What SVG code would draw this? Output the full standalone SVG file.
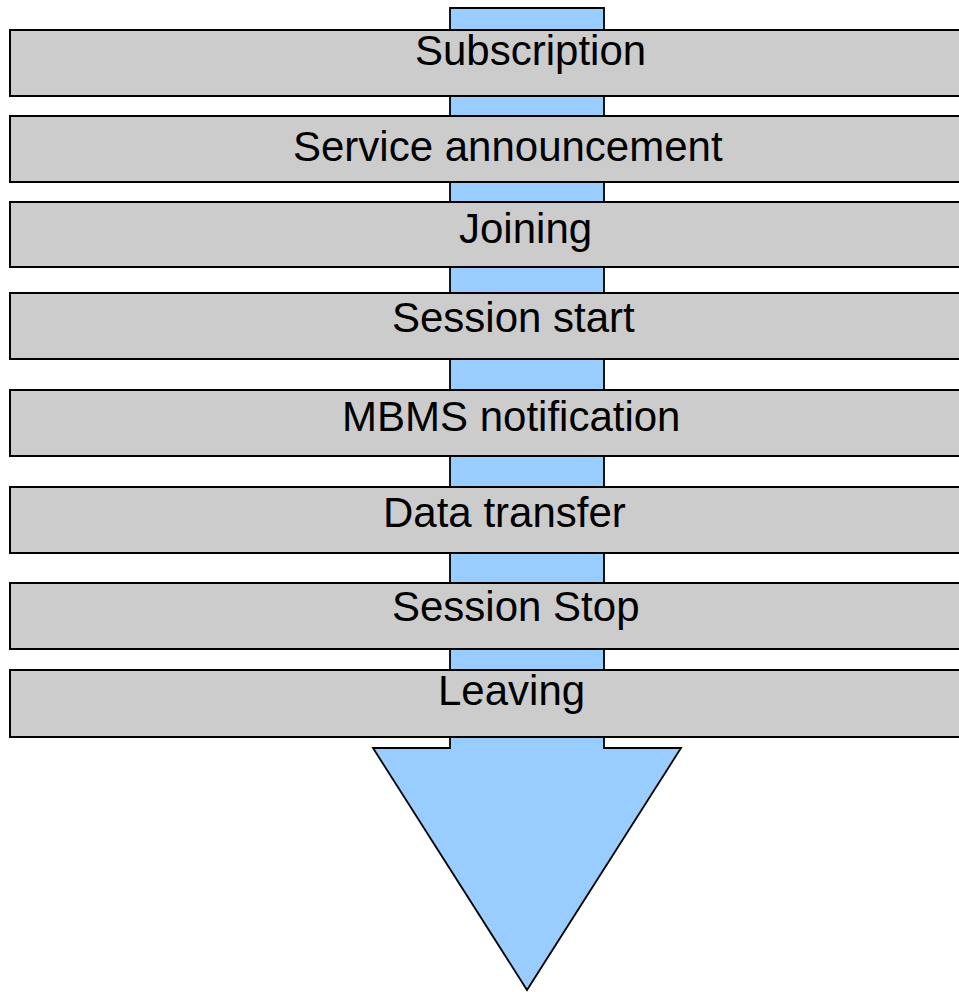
<svg xmlns="http://www.w3.org/2000/svg" width="959" height="992" viewBox="0 0 959 992">
<style>
.box{fill:#cccccc;stroke:#000000;stroke-width:2}
.lbl{font-family:"Liberation Sans",Arial,sans-serif;font-size:42px;fill:#000000}
.arrow{fill:#99ccff;stroke:#000000;stroke-width:1.8;stroke-linejoin:miter}
</style>
<rect width="959" height="992" fill="#ffffff"/>
<g id="connectors">
<polygon class="arrow" points="450,8 604,8 604,748 681,748 527,990 373,748 450,748"/>
</g>
<g id="n1"><rect class="box" x="10" y="30" width="960" height="66"/><text class="lbl" x="415" y="65">Subscription</text></g>
<g id="n2"><rect class="box" x="10" y="116" width="960" height="66"/><text class="lbl" x="293" y="161">Service announcement</text></g>
<g id="n3"><rect class="box" x="10" y="202" width="960" height="65"/><text class="lbl" x="459" y="243">Joining</text></g>
<g id="n4"><rect class="box" x="10" y="293" width="960" height="66"/><text class="lbl" x="392" y="332">Session start</text></g>
<g id="n5"><rect class="box" x="10" y="390" width="960" height="66"/><text class="lbl" x="342" y="431">MBMS notification</text></g>
<g id="n6"><rect class="box" x="10" y="487" width="960" height="66"/><text class="lbl" x="383" y="527">Data transfer</text></g>
<g id="n7"><rect class="box" x="10" y="583" width="960" height="66"/><text class="lbl" x="392" y="621">Session Stop</text></g>
<g id="n8"><rect class="box" x="10" y="670" width="960" height="67"/><text class="lbl" x="438" y="705">Leaving</text></g>
</svg>
